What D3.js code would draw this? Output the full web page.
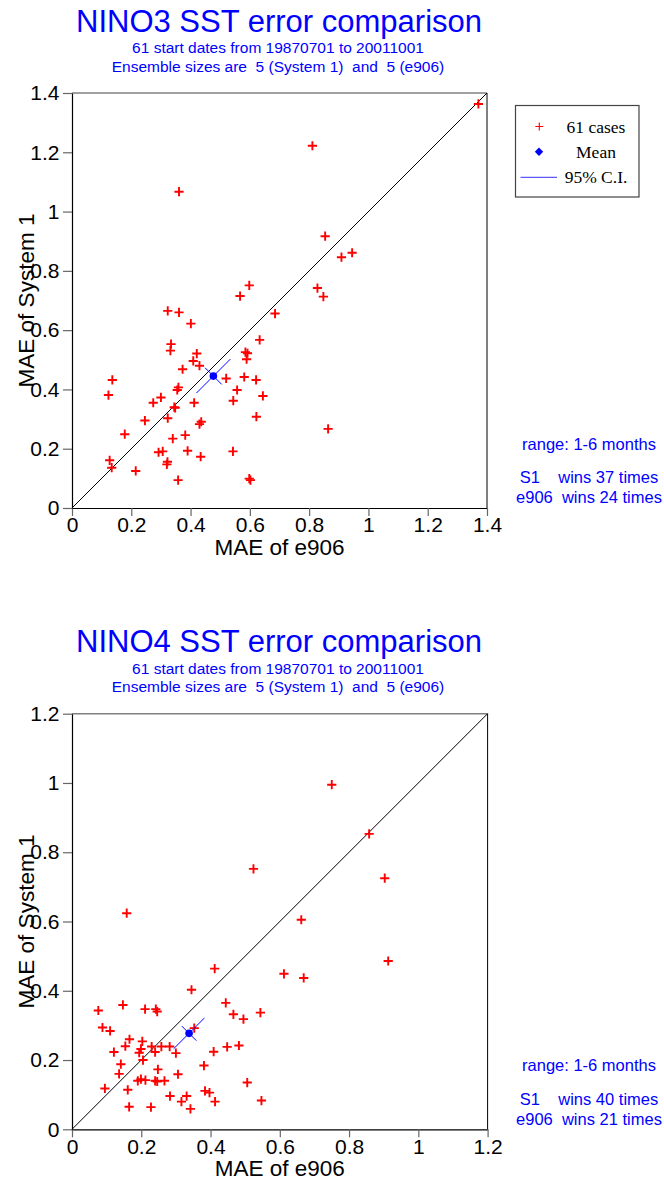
<!DOCTYPE html>
<html><head><meta charset="utf-8">
<script src="https://cdn.jsdelivr.net/npm/d3@7"></script>
<style>
body{margin:0;background:#fff}
svg{display:block}
.sans{font-family:"Liberation Sans",Arial,Helvetica,sans-serif}
.serif{font-family:"Liberation Serif","Times New Roman",serif}
.pre{white-space:pre}
</style>
</head><body>
<svg id="chart" width="664" height="1182"></svg>
<script>
// ---------- DATA ----------
const nino3Points = [
  [1.371,1.363],[0.811,1.222],[0.361,1.067],[0.854,0.917],[0.909,0.846],[0.945,0.861],
  [0.828,0.742],[0.848,0.713],[0.598,0.751],[0.567,0.715],[0.685,0.656],[0.323,0.665],
  [0.361,0.660],[0.401,0.622],[0.334,0.553],[0.332,0.531],[0.633,0.567],[0.585,0.526],
  [0.592,0.522],[0.589,0.502],[0.421,0.521],[0.409,0.496],[0.430,0.480],[0.373,0.468],
  [0.520,0.437],[0.581,0.442],[0.621,0.432],[0.557,0.398],[0.544,0.362],[0.644,0.378],
  [0.622,0.308],[0.543,0.191],[0.598,0.099],[0.602,0.094],[0.136,0.432],[0.123,0.381],
  [0.359,0.407],[0.355,0.398],[0.300,0.373],[0.274,0.355],[0.348,0.338],[0.345,0.340],
  [0.412,0.355],[0.246,0.295],[0.323,0.303],[0.436,0.291],[0.430,0.283],[0.178,0.249],
  [0.382,0.246],[0.340,0.234],[0.292,0.188],[0.306,0.191],[0.390,0.193],[0.434,0.173],
  [0.127,0.161],[0.134,0.136],[0.215,0.125],[0.322,0.156],[0.320,0.147],[0.358,0.094],
  [0.864,0.267]
];
const nino4Points = [
  [0.750,0.995],[0.858,0.853],[0.524,0.752],[0.903,0.725],[0.158,0.624],[0.662,0.605],
  [0.913,0.486],[0.612,0.449],[0.669,0.437],[0.412,0.464],[0.345,0.403],[0.444,0.365],
  [0.466,0.332],[0.495,0.318],[0.544,0.337],[0.547,0.083],[0.076,0.343],[0.147,0.359],
  [0.211,0.347],[0.242,0.347],[0.246,0.340],[0.088,0.294],[0.110,0.284],[0.353,0.292],
  [0.166,0.260],[0.154,0.240],[0.203,0.254],[0.199,0.232],[0.230,0.239],[0.258,0.239],
  [0.282,0.239],[0.240,0.223],[0.121,0.223],[0.194,0.221],[0.300,0.220],[0.409,0.224],
  [0.448,0.238],[0.482,0.242],[0.205,0.200],[0.141,0.188],[0.381,0.184],[0.248,0.173],
  [0.136,0.160],[0.306,0.159],[0.190,0.140],[0.199,0.145],[0.212,0.142],[0.240,0.140],
  [0.246,0.138],[0.267,0.140],[0.506,0.135],[0.095,0.118],[0.161,0.114],[0.384,0.111],
  [0.397,0.106],[0.331,0.096],[0.283,0.096],[0.316,0.080],[0.413,0.080],[0.165,0.065],
  [0.228,0.064],[0.342,0.059]
];
const nino3Mean = [0.477, 0.445];
const nino4Mean = [0.338, 0.277];
// half-lengths of 95% C.I. along the diagonal and across it
const nino3CI = [0.0574, 0.028];
const nino4CI = [0.0444, 0.021];
const nino3Ticks = [0, 0.2, 0.4, 0.6, 0.8, 1, 1.2, 1.4];
const nino4Ticks = [0, 0.2, 0.4, 0.6, 0.8, 1, 1.2];
const chartTitles = ["NINO3 SST error comparison", "NINO4 SST error comparison"];
const subtitleLines = ["61 start dates from 19870701 to 20011001",
                       "Ensemble sizes are  5 (System 1)  and  5 (e906)"];
const rangeText = "range: 1-6 months";
const nino3Wins = ["S1    wins 37 times", "e906  wins 24 times"];
const nino4Wins = ["S1    wins 40 times", "e906  wins 21 times"];
const legendLabels = ["61 cases", "Mean", "95% C.I."];
const xAxisTitle = "MAE of e906";
const yAxisTitle = "MAE of System 1";

// ---------- DRAW ----------
const svg = d3.select("#chart");
const BLUE = "#0000ff", RED = "#ff0000";
const fmt = d => d === 0 ? "0" : String(+d.toFixed(1));
const plusPath = "M-4.6,0H4.6M0,-4.6V4.6";

function drawChart(cfg) {
  const L = 72, S = cfg.size, T = cfg.top, B = T + S;
  const max = cfg.ticks[cfg.ticks.length - 1];
  const x = d3.scaleLinear().domain([0, max]).range([L, L + S]);
  const y = d3.scaleLinear().domain([0, max]).range([B, T]);
  const g = svg.append("g").attr("class", "sans");

  // titles
  g.append("text").attr("x", 279).attr("y", T - 61.3).attr("text-anchor", "middle")
    .attr("fill", BLUE).attr("font-size", 31).text(cfg.title);
  subtitleLines.forEach((s, i) => {
    g.append("text").attr("class", "pre").attr("x", 278).attr("y", T - 39.7 + i * 18.4)
      .attr("text-anchor", "middle").attr("fill", BLUE).attr("font-size", 15.5).text(s);
  });

  // frame (top & right)
  g.append("line").attr("x1", L).attr("x2", L + S).attr("y1", T).attr("y2", T)
    .attr("stroke", "#808080").attr("stroke-width", 1.6);
  g.append("line").attr("x1", L + S).attr("x2", L + S).attr("y1", T).attr("y2", B)
    .attr("stroke", "#000").attr("stroke-width", 1);

  // axes
  const xa = g.append("g").attr("transform", `translate(0,${B})`)
    .call(d3.axisBottom(x).tickValues(cfg.ticks).tickFormat(fmt).tickSize(8).tickSizeOuter(0).tickPadding(1.5));
  const ya = g.append("g").attr("transform", `translate(${L},0)`)
    .call(d3.axisLeft(y).tickValues(cfg.ticks).tickFormat(fmt).tickSize(9).tickSizeOuter(0).tickPadding(3.5));
  [xa, ya].forEach(a => {
    a.attr("font-family", null).attr("font-size", null);
    a.select(".domain").attr("stroke", "#000").attr("stroke-width", 1.2);
    a.selectAll(".tick line").attr("stroke", "#666").attr("stroke-width", 1.2);
    a.selectAll(".tick text").attr("fill", "#000").attr("font-size", 21);
  });

  // axis titles
  g.append("text").attr("x", L + S / 2).attr("y", B + 47).attr("text-anchor", "middle")
    .attr("font-size", 22.5).attr("fill", "#000").text(xAxisTitle);
  g.append("text").attr("transform", `translate(34,${T + S / 2}) rotate(-90)`)
    .attr("text-anchor", "middle").attr("font-size", 22.5).attr("fill", "#000").text(yAxisTitle);

  // diagonal
  g.append("line").attr("x1", x(0)).attr("y1", y(0)).attr("x2", x(max)).attr("y2", y(max))
    .attr("stroke", "#000").attr("stroke-width", 1);

  // points
  g.append("g").selectAll("path").data(cfg.points).join("path")
    .attr("d", plusPath).attr("transform", d => `translate(${x(d[0])},${y(d[1])})`)
    .attr("stroke", RED).attr("stroke-width", 1.9).attr("fill", "none");

  // CI lines and mean
  const [mx, my] = cfg.mean, [a, b] = cfg.ci;
  g.append("line").attr("x1", x(mx - a)).attr("y1", y(my - a)).attr("x2", x(mx + a)).attr("y2", y(my + a))
    .attr("stroke", BLUE).attr("stroke-width", 1);
  g.append("line").attr("x1", x(mx - b)).attr("y1", y(my + b)).attr("x2", x(mx + b)).attr("y2", y(my - b))
    .attr("stroke", BLUE).attr("stroke-width", 1);
  g.append("circle").attr("cx", x(mx)).attr("cy", y(my)).attr("r", 3.8).attr("fill", BLUE);

  // right-hand text
  g.append("text").attr("class", "pre").attr("x", 589).attr("y", B - 58.5).attr("text-anchor", "middle")
    .attr("fill", BLUE).attr("font-size", 16.5).text(rangeText);
  cfg.wins.forEach((s, i) => {
    g.append("text").attr("class", "pre").attr("x", 589).attr("y", B - 24.7 + i * 20)
      .attr("text-anchor", "middle").attr("fill", BLUE).attr("font-size", 16.5).text(s);
  });

  if (cfg.legend) {
    const lg = g.append("g");
    lg.append("rect").attr("x", 515.5).attr("y", 105.5).attr("width", 123.5).attr("height", 91.5)
      .attr("fill", "#fff").attr("stroke", "#444").attr("stroke-width", 1.2);
    const rows = [T + 39.7, T + 65.3, T + 90.3];
    legendLabels.forEach((s, i) => {
      lg.append("text").attr("class", "serif").attr("x", 596).attr("y", rows[i]).attr("text-anchor", "middle")
        .attr("font-size", 17.5).attr("fill", "#000").text(s);
    });
    lg.append("path").attr("d", "M-4,0H4M0,-4V4").attr("transform", "translate(539.3,126.5)")
      .attr("stroke", RED).attr("stroke-width", 1.1);
    lg.append("path").attr("d", "M0,-4.2L4.2,0L0,4.2L-4.2,0Z").attr("transform", "translate(539,151.7)")
      .attr("fill", BLUE);
    lg.append("line").attr("x1", 520.5).attr("x2", 557).attr("y1", 177.3).attr("y2", 177.3)
      .attr("stroke", "#5a5aff").attr("stroke-width", 1.3);
  }
}

drawChart({top: 93, size: 415, ticks: nino3Ticks, points: nino3Points, mean: nino3Mean, ci: nino3CI,
           title: chartTitles[0], wins: nino3Wins, legend: true});
drawChart({top: 713.7, size: 415.6, ticks: nino4Ticks, points: nino4Points, mean: nino4Mean, ci: nino4CI,
           title: chartTitles[1], wins: nino4Wins, legend: false});
</script>
</body></html>
